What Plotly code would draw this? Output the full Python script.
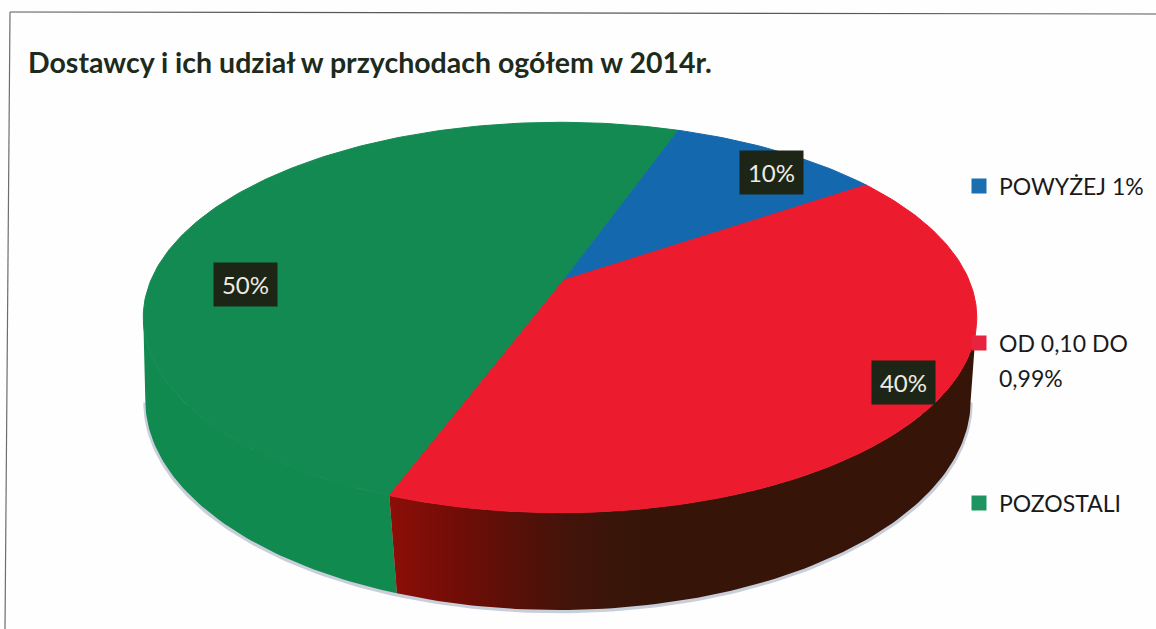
import math
import plotly.graph_objects as go

# --- data ---
categories = ["POWYŻEJ 1%", "OD 0,10 DO", "POZOSTALI"]
category_second_line = "0,99%"
values = [10, 40, 50]
labels = ["10%", "40%", "50%"]
title = "Dostawcy i ich udział w przychodach ogółem w 2014r."

# --- style ---
top_colors = ["#1468ae", "#ec1b2d", "#128a52"]
legend_colors = ["#1a6fb0", "#e8233f", "#1f9463"]
START_DEG = 20.0
APEX_DX = 4
SEAM_BOTTOM_DDEG = -1.0
W, H = 1156, 629
TOP = dict(cx=560, cy=280, a=409, b=188, k=0.192)
BOT = dict(cx=558, cy=360, a=405, b=202, k=0.192)
SHD = dict(cx=558, cy=362, a=407, b=203, k=0.192)
LABEL_XY = [(771, 172), (903, 382), (245, 284)]
LEGEND_XY = [(959, 186), (959, 343), (959, 503)]
# silhouette tangent angles of the projected circle
TANGENT_R = math.degrees(math.acos(-TOP["k"]))
TANGENT_L = 360 - TANGENT_R


def project(plane, deg, r=1.0):
    t = math.radians(deg)
    u, v = r * math.sin(t), r * math.cos(t)
    d = 1 + plane["k"] * v
    return plane["cx"] + plane["a"] * u / d, plane["cy"] - plane["b"] * v / d


def arc(plane, a0, a1, r=1.0):
    n = max(2, int(abs(a1 - a0)) + 1)
    pts = [project(plane, a0 + (a1 - a0) * i / (n - 1), r) for i in range(n)]
    return [p[0] for p in pts], [p[1] for p in pts]


# angular extents from the values
total = sum(values)
bounds = [START_DEG]
for val in values:
    bounds.append(bounds[-1] + 360 * val / total)

fig = go.Figure()


def poly(x, y, color=None, stroke=False):
    line = dict(width=1, color=color) if stroke else dict(width=0)
    fig.add_trace(go.Scatter(x=x, y=y, mode="lines", fill="toself", fillcolor=color,
                             line=line, showlegend=False, hoverinfo="skip"))


# soft shadow under the disc
sx, sy = arc(SHD, TANGENT_R, TANGENT_L)
poly(sx, sy, "#c9cfda")

# side walls: only the front-facing part, up to the silhouette tangents
seam = bounds[2] + SEAM_BOTTOM_DDEG
gx0, gy0 = arc(TOP, bounds[2], TANGENT_L)
gx1, gy1 = arc(BOT, seam, TANGENT_L)
poly(gx0 + gx1[::-1], gy0 + gy1[::-1], "#118a50")

rx0, ry0 = arc(TOP, TANGENT_R, bounds[2])
rx1, ry1 = arc(BOT, TANGENT_R, seam)
fig.add_trace(go.Scatter(
    x=rx0 + rx1[::-1], y=ry0 + ry1[::-1], mode="lines", fill="toself",
    fillgradient=dict(type="horizontal", start=392, stop=640,
                      colorscale=[[0, "#8c0e08"], [0.3, "#6d0d06"], [0.7, "#43130a"], [1, "#361508"]]),
    line=dict(width=0), showlegend=False, hoverinfo="skip"))

# top faces
ox, oy = project(TOP, 0, 0)
ox += APEX_DX
for i in [2, 0, 1]:
    ax, ay = arc(TOP, bounds[i], bounds[i + 1])
    poly([ox] + ax + [ox], [oy] + ay + [oy], top_colors[i], stroke=True)

# legend entries
for i, name in enumerate(categories):
    key = "legend" if i == 0 else f"legend{i + 1}"
    fig.add_trace(go.Scatter(x=[None], y=[None], mode="markers", name=name, legend=key,
                             marker=dict(symbol="square", size=15, color=legend_colors[i])))

layout_legends = {}
for i, (lx, ly) in enumerate(LEGEND_XY):
    key = "legend" if i == 0 else f"legend{i + 1}"
    layout_legends[key] = dict(x=lx / W, y=1 - ly / H, xanchor="left", yanchor="middle",
                               bgcolor="rgba(0,0,0,0)", borderwidth=0,
                               font=dict(family="Lato", size=23, color="#1a1a1a"),
                               itemwidth=30, itemclick=False, itemdoubleclick=False)

annotations = [
    dict(x=lx, y=ly, xref="x", yref="y", text=t, showarrow=False, width=61, height=41,
         bgcolor="#1d2517", font=dict(family="Lato", size=24, color="#ecece4"),
         align="center", valign="middle")
    for (lx, ly), t in zip(LABEL_XY, labels)
]
annotations.append(dict(x=997, y=378, xref="x", yref="y", xanchor="left", yanchor="middle",
                        text=category_second_line, showarrow=False,
                        font=dict(family="Lato", size=23, color="#1a1a1a")))

fig.update_layout(
    width=W, height=H, margin=dict(l=0, r=0, t=0, b=0),
    paper_bgcolor="#fefefe", plot_bgcolor="rgba(0,0,0,0)",
    title=dict(text=f"<b>{title}</b>", x=28 / W, xanchor="left", xref="paper",
               y=1 - 63 / H, yanchor="middle", yref="paper",
               font=dict(family="Lato", size=28.5, color="#1c2b1c")),
    xaxis=dict(range=[0, W], visible=False, fixedrange=True),
    yaxis=dict(range=[H, 0], visible=False, fixedrange=True),
    annotations=annotations,
    shapes=[
        dict(type="line", x0=10, y0=12, x1=W, y1=14, xref="x", yref="y", line=dict(color="#555b55", width=1.2)),
        dict(type="line", x0=10, y0=12, x1=5, y1=H, xref="x", yref="y", line=dict(color="#6a6f6a", width=1.2)),
    ],
    **layout_legends,
)

fig.write_html("out.html", post_script="document.body.style.margin='0';document.body.style.overflow='hidden';",
               config=dict(displayModeBar=False))
